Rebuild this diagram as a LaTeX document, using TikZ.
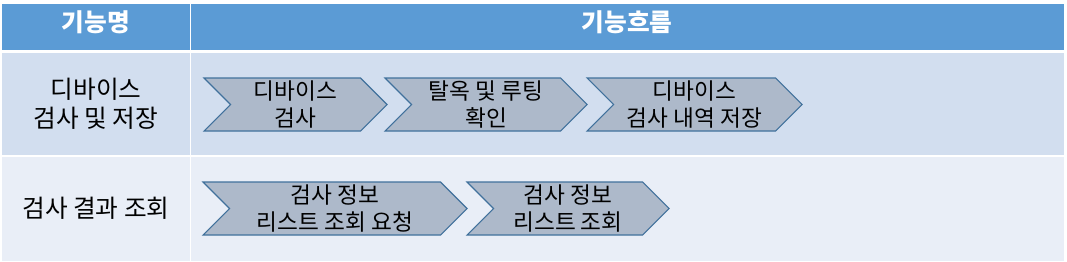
\documentclass[tikz,border=0pt]{standalone}
\usepackage{fontspec}
\setmainfont{Noto Sans CJK KR}
\usepackage{xcolor}
\usepackage{tikz}
\definecolor{headblue}{RGB}{91,155,213}
\definecolor{rowone}{RGB}{210,222,239}
\definecolor{rowtwo}{RGB}{233,238,247}
\definecolor{chevfill}{RGB}{173,185,202}
\definecolor{chevline}{RGB}{65,113,156}
\tikzset{
  headtext/.style={font=\fontsize{18.5}{22}\selectfont\bfseries, text=white},
  nametext/.style={font=\fontsize{18.5}{21.5}\selectfont, align=center},
  chevtext/.style={font=\fontsize{17}{20.5}\selectfont, align=center},
  chevbox/.style={fill=chevfill, draw=chevline, line width=0.8pt, line join=miter}
}
% chevron: name, left x, tip x, centre y, text
\newcommand{\chevron}[5]{%
  \draw[chevbox] (#2,#4-26.5) -- (#3-26.5,#4-26.5) -- (#3,#4) -- (#3-26.5,#4+26.5)
    -- (#2,#4+26.5) -- (#2+26.5,#4) -- cycle;
  \node[chevtext] (#1) at ({(#2+#3)/2},#4) {#5};}

\begin{document}
\begin{tikzpicture}[x=0.75pt, y=-0.75pt]
\useasboundingbox (0,0) rectangle (1067,261);

% --- Table cells ---
\fill[headblue] (2,4) rectangle (190,50);
\fill[headblue] (191,4) rectangle (1064,50);
\fill[rowone] (2,53) rectangle (190,155);
\fill[rowone] (191,53) rectangle (1064,155);
\fill[rowtwo] (2,157) rectangle (190,261);
\fill[rowtwo] (191,157) rectangle (1064,261);

% --- Header ---
\node[headtext] (hname) at (96,22) {기능명};
\node[headtext] (hflow) at (627,22) {기능흐름};

% --- Row 1: device check ---
\node[nametext] (name1) at (96,104) {디바이스\\검사 및 저장};
\chevron{c11}{204}{387}{104.5}{디바이스\\검사}
\chevron{c12}{385}{587}{104.5}{탈옥 및 루팅\\확인}
\chevron{c13}{587}{802}{104.5}{디바이스\\검사 내역 저장}

% --- Row 2: result lookup ---
\node[nametext] (name2) at (96,208) {검사 결과 조회};
\chevron{c21}{203}{467}{208.5}{검사 정보\\리스트 조회 요청}
\chevron{c22}{467}{669}{208.5}{검사 정보\\리스트 조회}

\end{tikzpicture}
\end{document}
